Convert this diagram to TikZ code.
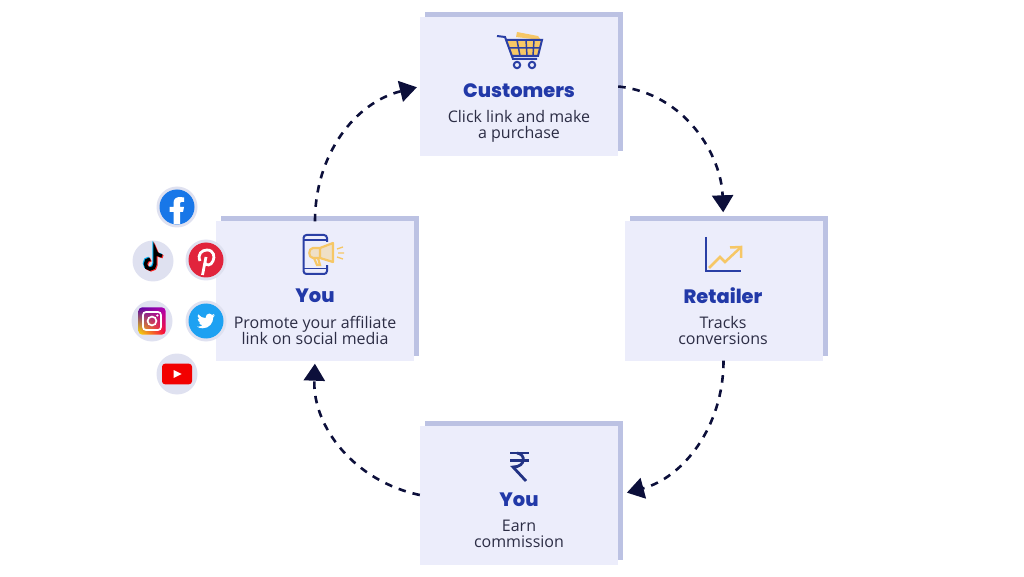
\documentclass[tikz,border=0pt]{standalone}
\usepackage{fontspec}
\setmainfont{Open Sans}
\newfontfamily\headfont{Poppins}[UprightFont=*-ExtraBold]
\usetikzlibrary{positioning}
\usetikzlibrary{arrows.meta}
\usetikzlibrary{shadows,shadings}
\definecolor{boxfill}{HTML}{ECEDFB}
\definecolor{boxback}{HTML}{BCC2E3}
\definecolor{headblue}{HTML}{2239A8}
\definecolor{bodyink}{HTML}{2C2D45}
\definecolor{flowink}{HTML}{0C0F3A}
\definecolor{iconblue}{HTML}{2A3FA5}
\definecolor{iconyellow}{HTML}{F6C766}
\definecolor{ringgrey}{HTML}{DFE1F0}
\definecolor{fbblue}{HTML}{1877E8}
\definecolor{twblue}{HTML}{1DA1F2}
\definecolor{pinred}{HTML}{E1243C}
\tikzset{
  stepbox/.style={rectangle, fill=boxfill, minimum width=198pt, minimum height=139pt, inner sep=0pt,
    copy shadow={shadow xshift=5pt, shadow yshift=5pt, fill=boxback, draw=none, opacity=1}},
  title/.style={font=\headfont\fontsize{19.4}{19.4}\selectfont, text=headblue, inner sep=0pt},
  body/.style={font=\fontsize{16}{16}\selectfont, text=bodyink, align=center, inner sep=0pt},
  flow/.style={draw=flowink, line width=2.6pt, dash pattern=on 7.5pt off 7pt,
    -{Triangle[length=17pt, width=21pt]}},
  badge/.style={circle, fill=ringgrey, minimum size=41pt, inner sep=0pt},
  iconline/.style={draw=iconblue, line width=2pt},
  accent/.style={draw=iconyellow, line width=2.2pt}
}
\begin{document}
\begin{tikzpicture}[x=1pt, y=1pt]
  \useasboundingbox (0,0) rectangle (1024,576);

  % Draw the four boxes
  \node[stepbox] (customers) at (519,489.5) {};
  \node[stepbox] (you) at (315,285) {};
  \node[stepbox] (retailer) at (723.5,285) {};
  \node[stepbox] (earn) at (519,81) {};

  % Titles and captions
  \node[title] (customersT) at (519,485) {Customers};
  \node[body] (customersB) at (519,450) {Click link and make\\a purchase};
  \node[title] (youT) at (315,280.5) {You};
  \node[body] (youB) at (315,246) {Promote your affiliate\\link on social media};
  \node[title] (retailerT) at (723,280.5) {Retailer};
  \node[body] (retailerB) at (723,246) {Tracks\\conversions};
  \node[title] (earnT) at (519,76.5) {You};
  \node[body] (earnB) at (519,42) {Earn\\commission};

  % Draw the cycle
  \draw[flow, shorten >=3pt] (you.north) to[out=90, in=194] (customers.west);
  \draw[flow, shorten >=9pt] (customers.east) to[out=-6, in=92] (retailer.north);
  \draw[flow, shorten >=9pt] (retailer.south) to[out=-90, in=15] (earn.east);
  \draw[flow, shorten >=3pt] (earn.west) to[out=168, in=-92] (you.south);

  % Cart
  \fill[iconyellow] (516,539) -- (517,544) -- (538,540) -- (541,536) -- cycle;
  \fill[iconyellow] (507,536) -- (542,536) -- (538,520) -- (512,520) -- cycle;
  \draw[iconline, line width=1.5pt] (517,536) -- (520,520) (526,536) -- (527,520) (534,536) -- (533,520) (509,528) -- (540,528);
  \draw[iconline] (497,540) -- (505,539) -- (513,517) -- (537,517);
  \draw[iconline] (507,536) -- (542,536) -- (538,520) -- (512,520);
  \draw[iconline] (517,511) circle (3.2) (532,511) circle (3.2);

  % Phone with megaphone
  \draw[iconline, rounded corners=3pt] (303.5,302) rectangle (327,341);
  \draw[iconline, line width=1.4pt] (303.5,336) -- (327,336) (303.5,307.5) -- (327,307.5);
  \fill[boxfill] (309,311) rectangle (333,334);
  \fill[iconyellow!35!boxfill] (320,328) -- (333,333) -- (333,314) -- (320,318) -- (313,318) .. controls (308,318) and (308,328) .. (313,328) -- cycle;
  \draw[accent, line join=round] (320,328) -- (333,333) -- (333,314) -- (320,318) -- (313,318) .. controls (308,318) and (308,328) .. (313,328) -- cycle;
  \draw[accent] (320,328) -- (320,318) (314,318) -- (317,311) -- (320,311) -- (318,318);
  \draw[accent, line width=1.4pt] (337,327) -- (343,329) (338,323) -- (344,323) (337,319) -- (343,317);

  % Rising chart
  \draw[iconline] (706,339) -- (706,305) -- (741,305);
  \draw[accent, line width=2.5pt] (709,308) -- (720,319) -- (725,314) -- (740,328);
  \draw[accent, line width=2.5pt] (730,328.5) -- (741,329) -- (741,318);

  % Rupee sign
  \draw[draw=iconblue!80!black, line width=2.8pt] (510,123) -- (529,123) (510,115.3) -- (529,115.3);
  \draw[draw=iconblue!80!black, line width=2.8pt] (517,123) .. controls (526,122) and (526,109) .. (513,109) -- (526,95);

  % Social badges
  \node[badge] (fb) at (177,369) {};
  \node[badge] (tt) at (153,315) {};
  \node[badge] (pin) at (206,316) {};
  \node[badge] (ig) at (152,255) {};
  \node[badge] (tw) at (206,255) {};
  \node[badge] (yt) at (177,202) {};

  % Facebook
  \begin{scope}[shift={(fb.center)}]
    \fill[fbblue] (0,0) circle (17.5);
    \fill[white] (-3.5,-17) -- (-3.5,-5) -- (-7.5,-5) -- (-7.5,0) -- (-3.5,0) -- (-3.5,4) .. controls (-3.5,8) and (-1,10) .. (3,10) -- (7,9.5) -- (7,5) -- (4.5,5) .. controls (3,5) and (3,4) .. (3,2) -- (3,0) -- (7,0) -- (6,-5) -- (3,-5) -- (3,-17) -- cycle;
  \end{scope}

  % TikTok
  \begin{scope}[shift={(tt.center)}, line width=3.4pt]
    \foreach \dx/\dy/\ink in {-1/0.8/cyan, 1/-0.8/red!80!pink, 0/0/black} {
      \draw[\ink, shift={(\dx,\dy)}] (-3,2) .. controls (-9,2) and (-9,-8) .. (-3,-8) .. controls (0,-8) and (2,-6) .. (2,-3) -- (2,11) .. controls (3,7) and (6,5) .. (9,5);
    }
  \end{scope}

  % Pinterest
  \begin{scope}[shift={(pin.center)}]
    \fill[pinred] (0,0) circle (17.5);
    \draw[white, line width=2.8pt] (-3.5,-15) -- (0,3);
    \draw[white, line width=2.8pt] (-6,-1) .. controls (-9,6) and (-4,10) .. (1,10) .. controls (8,10) and (9,3) .. (7,-1) .. controls (5,-6) and (0,-6) .. (-1.5,-2.5);
  \end{scope}

  % Instagram
  \begin{scope}[shift={(ig.center)}]
    \shade[rounded corners=4pt, lower left=yellow!80!orange, upper left=violet!70!blue, upper right=violet!60!magenta, lower right=red!80!magenta] (-13.7,-13.7) rectangle (13.7,13.7);
    \draw[white, line width=1.7pt, rounded corners=3pt] (-9,-9) rectangle (9,9);
    \draw[white, line width=1.7pt] (0,0) circle (4.4);
    \fill[white] (5.3,5.5) circle (1.2);
  \end{scope}

  % Twitter
  \begin{scope}[shift={(tw.center)}]
    \fill[twblue] (0,0) circle (17.5);
    \fill[white, scale=.75, yscale=-1, shift={(-12,-12)}] (23.95,4.57) -- (21.13,5.35) -- (23.29,2.62) -- (20.16,3.8) .. controls (19.3,2.8) and (17.9,2.1) .. (16.55,2.1) .. controls (13.8,2.1) and (11.6,4.3) .. (11.6,7) .. controls (11.6,7.4) and (11.65,7.8) .. (11.78,8.29) .. controls (7.69,8.1) and (4.07,6.13) .. (1.64,3.16) .. controls (1.2,3.9) and (0.97,4.75) .. (0.97,5.64) .. controls (0.97,7.35) and (1.84,8.85) .. (3.16,9.73) .. controls (2.35,9.7) and (1.6,9.5) .. (0.93,9.12) -- (0.93,9.18) .. controls (0.93,11.55) and (2.65,13.55) .. (4.88,14) .. controls (4.2,14.2) and (3.4,14.2) .. (2.67,14.09) .. controls (3.3,16) and (5.1,17.45) .. (7.27,17.5) .. controls (5.6,18.85) and (3.4,19.6) .. (1.17,19.6) .. controls (.78,19.6) and (.39,19.58) .. (0,19.54) .. controls (2.2,20.9) and (4.8,21.75) .. (7.56,21.75) .. controls (16.6,21.75) and (21.55,14.25) .. (21.55,7.77) .. controls (21.55,7.55) and (21.55,7.35) .. (21.54,7.14) .. controls (22.5,6.45) and (23.35,5.6) .. (24,4.59) -- cycle;
  \end{scope}

  % YouTube
  \begin{scope}[shift={(yt.center)}]
    \fill[red!95!black, rounded corners=3pt] (-15,-10.3) rectangle (15,10.3);
    \fill[white] (-3.5,4) -- (4.5,0) -- (-3.5,-4) -- cycle;
  \end{scope}
\end{tikzpicture}
\end{document}
